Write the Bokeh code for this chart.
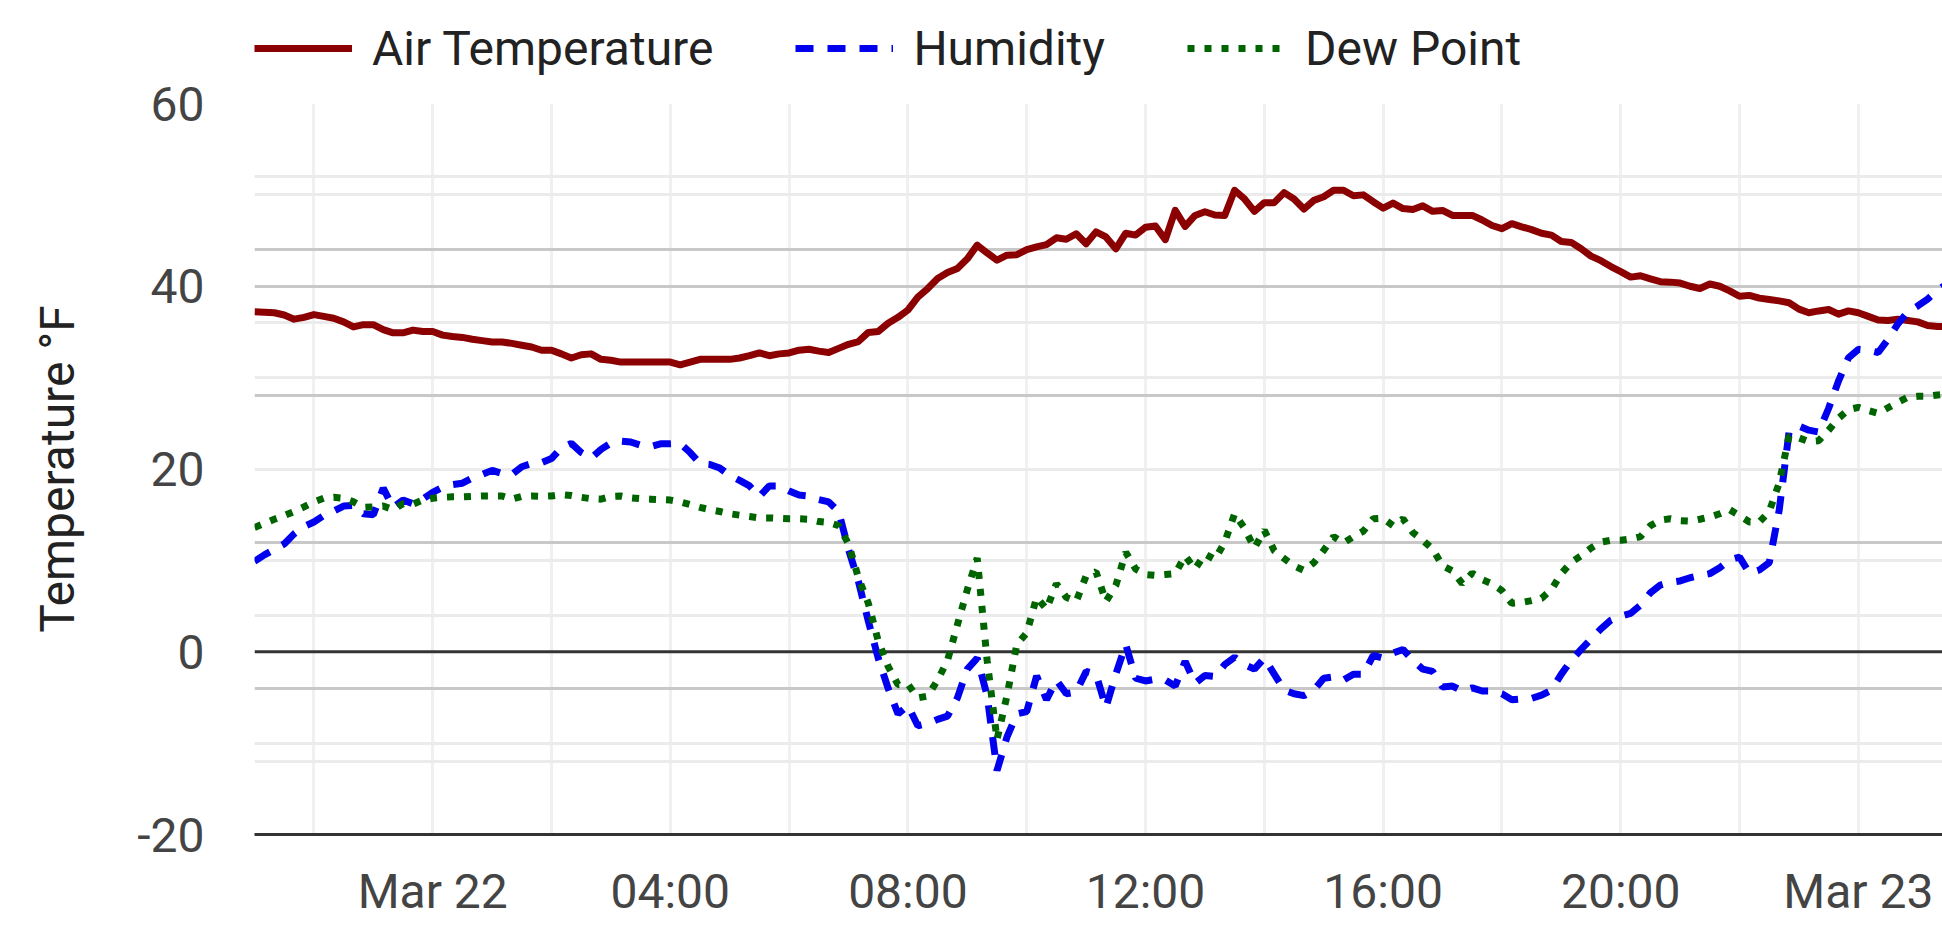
import pandas as pd
from bokeh.plotting import figure
from bokeh.layouts import column
from bokeh.models import (Range1d, FixedTicker, Grid, Span, Legend, LegendItem,
                          CustomJSTickFormatter)
from bokeh.embed import file_html
from bokeh.resources import INLINE

# ---------------- data (10-minute readings, from Mar 21 21:00) ----------------
start_time = "2024-03-21 21:00"

air_temperature = [
    37.2, 37.15, 37.1, 36.85, 36.4, 36.6,      # 21:00
    36.9, 36.7, 36.5, 36.1, 35.55, 35.8,       # 22:00
    35.8, 35.25, 34.9, 34.9, 35.2, 35.05,      # 23:00
    35.05, 34.65, 34.5, 34.4, 34.2, 34.05,     # 00:00 Mar 22
    33.9, 33.9, 33.75, 33.55, 33.35, 33.0,
    33.0, 32.6, 32.15, 32.5, 32.6, 32.0,
    31.9, 31.7, 31.7, 31.7, 31.7, 31.7,
    31.7, 31.4, 31.7, 32.0, 32.0, 32.0,
    32.0, 32.15, 32.4, 32.7, 32.4, 32.6,
    32.7, 33.0, 33.1, 32.9, 32.75, 33.2,
    33.65, 33.95, 34.95, 35.05, 35.95, 36.6,
    37.4, 38.8, 39.75, 40.85, 41.5, 41.95,
    43.0, 44.5, 43.65, 42.85, 43.4, 43.45,
    44.0, 44.3, 44.55, 45.3, 45.15, 45.75,
    44.65, 45.95, 45.4, 44.1, 45.8, 45.6,
    46.45, 46.6, 45.1, 48.3, 46.55, 47.75,
    48.15, 47.8, 47.75, 50.5, 49.55, 48.2,
    49.15, 49.15, 50.25, 49.55, 48.45, 49.4,
    49.8, 50.5, 50.5, 49.9, 50.0, 49.25,
    48.55, 49.1, 48.5, 48.4, 48.8, 48.2,
    48.3, 47.75, 47.75, 47.75, 47.25, 46.65,
    46.3, 46.85, 46.5, 46.2, 45.8, 45.6,
    44.9, 44.8, 44.1, 43.3, 42.8, 42.15,
    41.6, 41.0, 41.15, 40.8, 40.5, 40.45,
    40.35, 40.0, 39.75, 40.25, 40.0, 39.5,
    38.9, 39.0, 38.7, 38.55, 38.4, 38.2,
    37.5, 37.1, 37.3, 37.45, 36.95, 37.3,
    37.1, 36.7, 36.3, 36.25, 36.4, 36.25,      # 00:00 Mar 23
    36.1, 35.7, 35.6, 35.6,
]

humidity = [
    9.9, 10.6, 11.2, 11.8, 12.9, 13.7,
    14.2, 14.9, 15.4, 15.95, 16.0, 15.1,
    15.0, 17.9, 15.8, 16.6, 16.2, 16.7,
    17.45, 18.0, 18.3, 18.45, 19.0, 19.4,
    19.85, 19.5, 19.4, 20.25, 20.6, 20.7,
    21.15, 22.3, 22.8, 21.8, 21.2, 22.15,
    22.85, 23.05, 22.95, 22.6, 22.45, 22.75,
    22.75, 22.8, 21.8, 20.6, 20.5, 20.1,
    19.3, 18.75, 18.15, 17.0, 18.15, 18.15,
    17.6, 17.15, 17.05, 16.65, 16.4, 15.35,
    11.2, 7.7, 3.35, -0.7, -4.0, -6.8,
    -5.9, -8.1, -7.85, -7.4, -7.05, -5.05,
    -1.9, -0.7, -4.8, -13.0, -9.35, -6.8,
    -6.55, -2.65, -5.25, -3.1, -4.6, -4.4,
    -2.15, -2.45, -6.1, -2.45, 0.8, -2.9,
    -3.2, -3.0, -3.1, -3.75, -1.05, -3.45,
    -2.6, -2.7, -1.4, -0.6, -1.4, -1.9,
    -0.7, -2.45, -4.2, -4.6, -4.8, -4.2,
    -2.9, -2.75, -3.1, -2.45, -2.45, -0.4,
    -0.7, -0.15, 0.25, -0.95, -1.9, -2.15,
    -3.85, -3.75, -4.3, -3.95, -4.3, -4.3,
    -4.6, -5.25, -5.15, -5.1, -4.75, -4.2,
    -2.45, -0.95, 0.25, 1.4, 2.5, 3.45,
    3.9, 4.2, 5.1, 6.45, 7.3, 7.6,
    7.75, 8.1, 8.35, 8.55, 9.2, 10.05,
    10.35, 8.6, 8.95, 9.75, 15.45, 24.05,
    24.7, 24.25, 24.05, 26.65, 29.65, 32.15,
    33.1, 33.0, 32.75, 34.2, 35.9, 37.2,
    37.85, 38.6, 39.55, 40.3,
]

dew_point = [
    13.6, 14.05, 14.5, 14.9, 15.35, 15.85,
    16.4, 16.8, 16.9, 16.8, 16.4, 15.8,
    15.85, 15.95, 15.55, 16.2, 16.15, 16.6,
    16.8, 16.9, 16.95, 16.95, 17.0, 17.05,
    17.05, 17.05, 16.7, 17.0, 17.05, 17.0,
    17.05, 17.2, 17.1, 16.9, 16.75, 16.7,
    17.0, 17.05, 16.85, 16.75, 16.7, 16.65,
    16.6, 16.4, 16.1, 15.8, 15.55, 15.35,
    15.1, 14.95, 14.8, 14.65, 14.65, 14.6,
    14.55, 14.55, 14.5, 14.25, 14.15, 13.8,
    11.8, 8.1, 5.3, 1.2, -1.6, -3.6,
    -3.55, -5.05, -4.85, -3.1, -0.95, 2.95,
    6.8, 10.25, -0.95, -9.6, -4.85, 0.8,
    2.05, 5.95, 4.65, 7.45, 5.95, 5.5,
    8.3, 8.75, 5.5, 7.25, 10.9, 9.05,
    8.45, 8.35, 8.45, 8.55, 10.5, 9.05,
    10.7, 10.1, 12.0, 15.1, 13.5, 11.35,
    13.3, 11.05, 10.2, 9.4, 8.9, 9.75,
    11.1, 12.6, 11.9, 12.6, 13.2, 14.55,
    14.6, 13.8, 14.55, 13.05, 12.2, 11.25,
    9.4, 8.85, 7.45, 8.6, 7.9, 7.45,
    6.7, 5.3, 5.4, 5.6, 5.85, 6.8,
    8.55, 9.8, 10.5, 11.35, 12.0, 12.2,
    12.2, 12.35, 12.6, 13.8, 14.4, 14.55,
    14.35, 14.3, 14.5, 14.75, 15.1, 15.55,
    14.9, 14.2, 14.2, 15.35, 18.45, 23.6,
    23.4, 23.0, 23.1, 24.25, 25.55, 26.5,
    26.75, 26.4, 26.1, 26.7, 27.3, 27.85,
    27.95, 27.95, 28.1, 28.2,
]

series_names = ["Air Temperature", "Humidity", "Dew Point"]

times = pd.date_range(start_time, periods=len(air_temperature), freq="10min")

x_start = pd.Timestamp("2024-03-21 21:00")
x_end = pd.Timestamp("2024-03-23 01:25")

tick_times = pd.to_datetime(["2024-03-22 00:00", "2024-03-22 04:00", "2024-03-22 08:00",
                             "2024-03-22 12:00", "2024-03-22 16:00", "2024-03-22 20:00",
                             "2024-03-23 00:00"])
tick_labels = ["Mar 22", "04:00", "08:00", "12:00", "16:00", "20:00", "Mar 23"]
minor_x_times = pd.date_range("2024-03-21 22:00", "2024-03-23 00:00", freq="2h")

y_ticks = [-20, 0, 20, 40, 60]
y_grid_dark = [60, 44, 40, 28, 12, -4]
y_grid_light = [52, 50, 36, 30, 20, 10, 4, -10, -12]

def ms(ts):
    return ts.value / 1e6

FONT = "Roboto"
STYLES = [dict(line_color="#8b0000", line_width=7, line_join="round"),
          dict(line_color="#0000ee", line_width=7, line_dash="18 14"),
          dict(line_color="#006400", line_width=7, line_dash="7 10")]

# ---------------- legend strip (top) ----------------
TOP_H = 75           # legend strip height
MAIN_TOP = 103 - TOP_H
pl = figure(width=1942, height=TOP_H, x_range=Range1d(0, 1), y_range=Range1d(0, 1),
            output_backend="svg", toolbar_location=None,
            x_axis_location=None, y_axis_location=None,
            min_border_left=254, min_border_right=0,
            min_border_top=0, min_border_bottom=0)
pl.outline_line_color = None
pl.grid.visible = False
pl.background_fill_color = "white"
pl.border_fill_color = "white"
nan = float("nan")
leg_renderers = [pl.line(x=[nan], y=[nan], **st) for st in STYLES]
legend = Legend(items=[LegendItem(label=n, renderers=[r])
                       for n, r in zip(series_names, leg_renderers)],
                orientation="horizontal", location="top_left",
                glyph_width=98, glyph_height=96, label_standoff=20, spacing=82,
                padding=0, margin=0, border_line_color=None,
                background_fill_alpha=0,
                label_text_font=FONT, label_text_font_size="48px",
                label_text_color="#222222")
pl.add_layout(legend, "center")

# ---------------- main chart ----------------
p = figure(width=1942, height=940 - TOP_H, x_axis_type="datetime",
           x_range=Range1d(x_start, x_end), y_range=Range1d(-20, 60),
           output_backend="svg", toolbar_location=None,
           min_border_left=254, min_border_right=0,
           min_border_top=MAIN_TOP, min_border_bottom=106)
p.outline_line_color = None
p.background_fill_color = "white"
p.border_fill_color = "white"

# vertical grid
p.xgrid.ticker = FixedTicker(ticks=[ms(t) for t in minor_x_times])
p.xgrid.grid_line_color = "#f0f0f0"
p.xgrid.grid_line_width = 3
p.ygrid.grid_line_color = None

g_dark = Grid(dimension=1, ticker=FixedTicker(ticks=y_grid_dark),
              grid_line_color="#c8c8c8", grid_line_width=3)
g_light = Grid(dimension=1, ticker=FixedTicker(ticks=y_grid_light),
               grid_line_color="#ebebeb", grid_line_width=3)
p.add_layout(g_dark, "center")
p.add_layout(g_light, "center")

zero = Span(location=0, dimension="width", line_color="#333333", line_width=3,
            level="underlay")
p.add_layout(zero, "center")

# axes
xa = p.xaxis[0]
xa.ticker = FixedTicker(ticks=[ms(t) for t in tick_times])
xa.formatter = CustomJSTickFormatter(
    args=dict(tick_vals=[ms(t) for t in tick_times], tick_names=tick_labels),
    code="""
    let best = 0;
    for (let i = 0; i < tick_vals.length; i++) {
        if (Math.abs(tick_vals[i] - tick) < Math.abs(tick_vals[best] - tick)) best = i;
    }
    return tick_names[best];
    """)
xa.axis_line_color = "#333333"
xa.axis_line_width = 3
xa.major_tick_line_color = None
xa.minor_tick_line_color = None
xa.major_tick_out = 0
xa.major_tick_in = 0
xa.major_label_text_font = FONT
xa.major_label_text_font_size = "48px"
xa.major_label_text_color = "#444444"
xa.major_label_standoff = 28

ya = p.yaxis[0]
ya.ticker = FixedTicker(ticks=y_ticks)
ya.formatter = CustomJSTickFormatter(code="return tick.toFixed(0);")
ya.axis_line_color = None
ya.major_tick_line_color = None
ya.minor_tick_line_color = None
ya.major_tick_out = 0
ya.major_tick_in = 0
ya.major_label_text_font = FONT
ya.major_label_text_font_size = "48px"
ya.major_label_text_color = "#444444"
ya.major_label_standoff = 50
ya.axis_label = "Temperature °F"
ya.axis_label_text_font = FONT
ya.axis_label_text_font_size = "48px"
ya.axis_label_text_font_style = "normal"
ya.axis_label_text_color = "#222222"
ya.axis_label_standoff = 48

# lines
for vals, st in zip([air_temperature, humidity, dew_point], STYLES):
    p.line(times, vals, **st)

layout = column(pl, p, spacing=0)
open("out.html", "w").write(file_html(layout, INLINE))
